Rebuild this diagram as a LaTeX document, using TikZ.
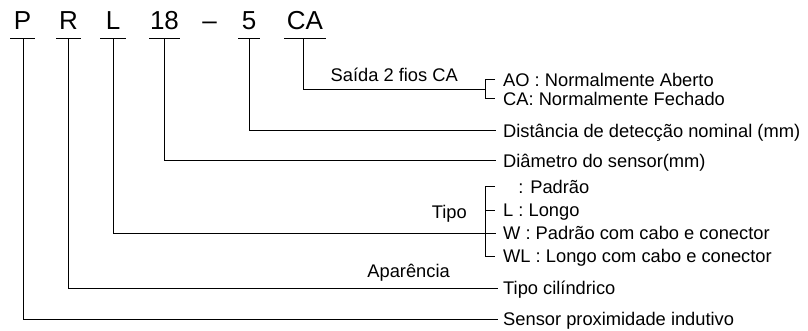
\documentclass[tikz,border=0pt]{standalone}
\usepackage{fontspec}
\setmainfont{Liberation Sans}
\begin{document}
\begin{tikzpicture}[x=1pt,y=-1pt,
  code/.style={font=\fontsize{26}{30}\selectfont, inner sep=0pt, anchor=base},
  lbl/.style={font=\fontsize{18.3}{22}\selectfont, inner sep=0pt, text height=13.2pt, text depth=0pt, anchor=west},
  conn/.style={line width=1pt, line cap=rect},
  uline/.style={line width=1pt}]
\useasboundingbox (0,0) rectangle (808,331);

% code letters
\node[code] (cP) at (22.5,30) {P};
\node[code] (cR) at (68.5,30) {R};
\node[code] (cL) at (113,30) {L};
\node[code] (c18) at (164.5,30) {18};
\node[code] (cD) at (209.5,30) {–};
\node[code] (c5) at (249,30) {5};
\node[code] (cCA) at (305,30) {CA};

% underlines
\draw[uline] (10,39) -- (35,39);
\draw[uline] (56,39) -- (81,39);
\draw[uline] (100,39) -- (126,39);
\draw[uline] (149,39) -- (180,39);
\draw[uline] (238,39) -- (260,39);
\draw[uline] (284,39) -- (326,39);
\coordinate (uP) at (23,39);
\coordinate (uR) at (68,39);
\coordinate (uL) at (113,39);
\coordinate (u18) at (164,39);
\coordinate (u5) at (249,39);
\coordinate (uCA) at (303,39);

% right labels
\node[lbl] (tAO) at (503,80) {AO : Normalmente Aberto};
\node[lbl] (tCAf) at (503,98.5) {CA: Normalmente Fechado};
\node[lbl] (tDist) at (503,131) {Distância de detecção nominal (mm)};
\node[lbl] (tDiam) at (503,161) {Diâmetro do sensor(mm)};
\node[lbl] (tPad) at (503,187) {\phantom{L} : Padrão};
\node[lbl] (tLon) at (503,210) {L : Longo};
\node[lbl] (tW) at (503,233) {W : Padrão com cabo e conector};
\node[lbl] (tWL) at (503,256) {WL : Longo com cabo e conector};
\node[lbl] (tCil) at (503,288) {Tipo cilíndrico};
\node[lbl] (tSen) at (503,319) {Sensor proximidade indutivo};

% group labels
\node[lbl, anchor=east] (gSai) at (458,75) {Saída 2 fios CA};
\node[lbl, anchor=east] (gTipo) at (467,212) {Tipo};
\node[lbl, anchor=east] (gApa) at (450,271) {Aparência};

% brackets
\draw[conn, line cap=butt] ([xshift=-8]tAO.west) -- ++(-10,0) |- ([xshift=-8]tCAf.west);
\draw[conn, line cap=butt] ([xshift=-8]tPad.west) -- ++(-10,0) |- ([xshift=-8]tWL.west);
\draw[conn, line cap=butt] ([xshift=-18]tLon.west) -- ([xshift=-8]tLon.west);

% connectors
\draw[conn] (uCA) |- (485,89.25);
\draw[conn] (u5) |- ([xshift=-8]tDist.west);
\draw[conn] (u18) |- ([xshift=-8]tDiam.west);
\draw[conn] (uL) |- ([xshift=-8]tW.west);
\draw[conn] (uR) |- ([xshift=-6]tCil.west);
\draw[conn] (uP) |- ([xshift=-6]tSen.west);
\end{tikzpicture}
\end{document}
